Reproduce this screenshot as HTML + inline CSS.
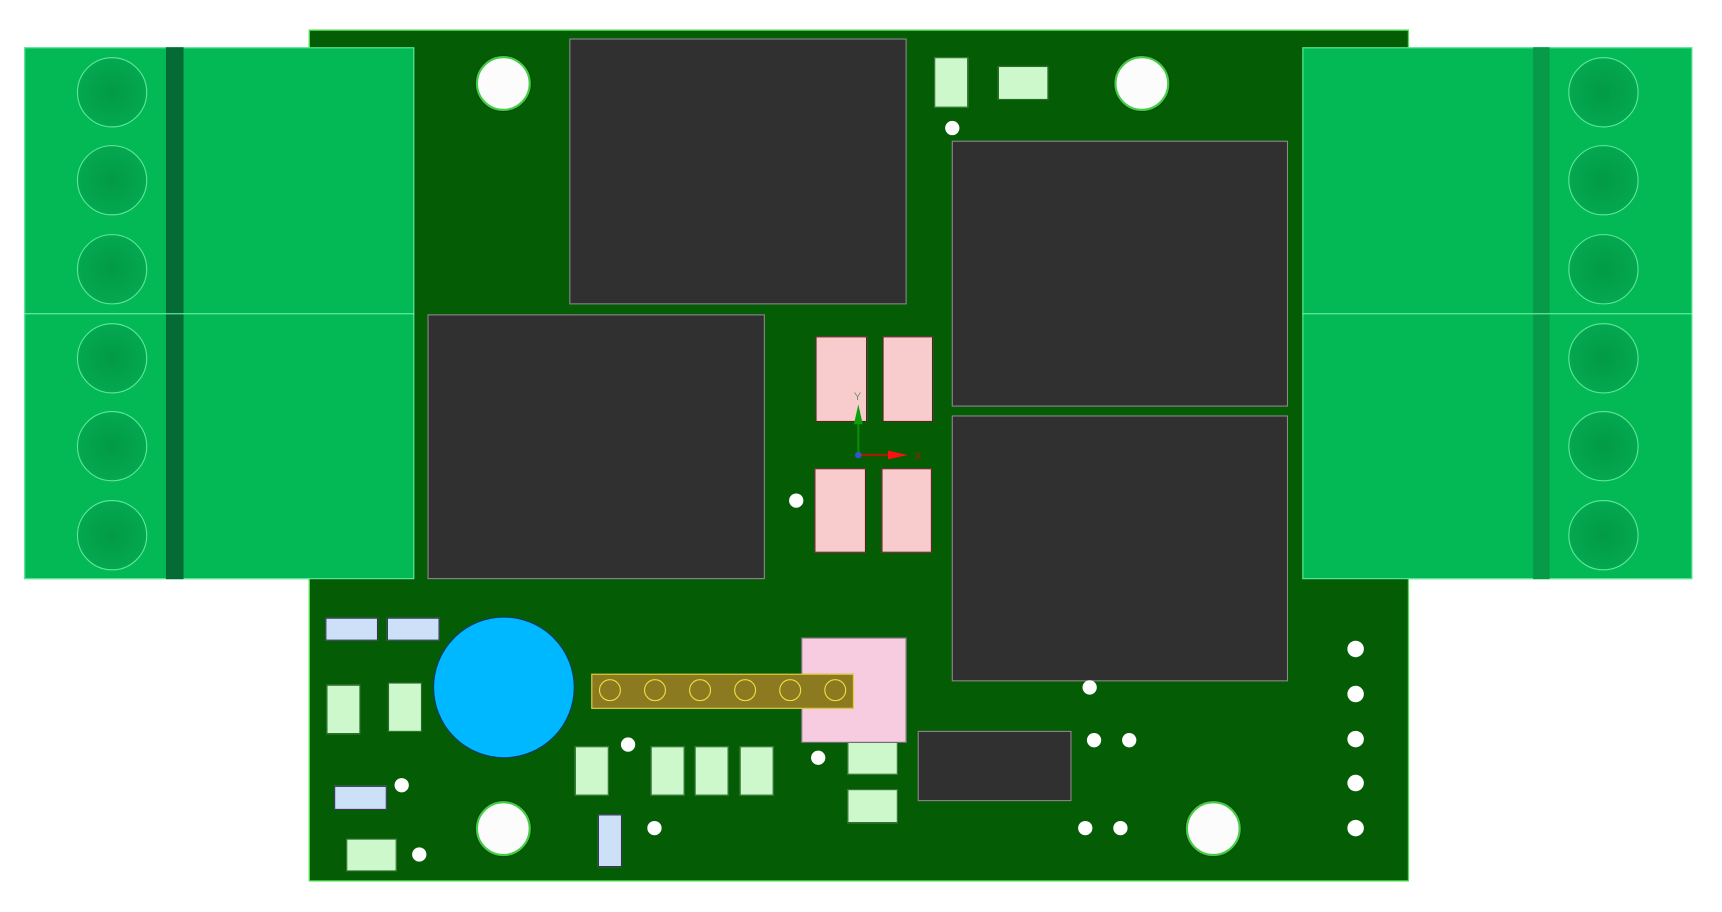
<!DOCTYPE html>
<html><head><meta charset="utf-8"><style>
html,body{margin:0;padding:0;background:#fff;width:1722px;height:912px;overflow:hidden}
#w{position:absolute;left:0;top:0;width:1563px;height:828px;transform:scale(1.099);transform-origin:0 0}
#w div{position:absolute;box-sizing:border-box}
.chip{background:#303030;border:1px solid #8a8a8a}
.pink{background:#f8cccc;border:1px solid #5a2020}
.lg{background:#ccf8cc;border:1px solid #2a6a2a}
.lb{background:#cce0f8;border:1px solid #335}
.hole{border-radius:50%;background:#fcfcfc;border:2px solid #4c4!important;box-shadow:0 0 0 1px #0a4a0a}
.dot{border-radius:50%;background:#fff;width:13px;height:13px}
.conn{background:#02b955;border:1px solid #5fe89a}
.strip{background:#046b35}
.tc{border-radius:50%;width:64px;height:64px;background:radial-gradient(circle at 50% 50%,#029a45,#03a850 70%,#06b155);border:1px solid #5fe89a}
</style></head><body><div id="w">
<div style="left:281px;top:27px;width:1001px;height:775px;background:#045c04;border:1px solid #4ef04e"></div>

<div class="conn" style="left:22px;top:43px;width:355px;height:484px"></div>
<div class="strip" style="left:151px;top:43px;width:16px;height:484px"></div>
<div style="left:22px;top:285px;width:355px;height:1px;background:#6ff0a8"></div>
<div class="conn" style="left:1185px;top:43px;width:355px;height:484px"></div>
<div class="strip" style="left:1395px;top:43px;width:15px;height:484px;background:#079a48"></div>
<div style="left:1185px;top:285px;width:355px;height:1px;background:#6ff0a8"></div>

<div class="tc" style="left:70px;top:52px"></div><div class="tc" style="left:70px;top:132px"></div><div class="tc" style="left:70px;top:213px"></div>
<div class="tc" style="left:70px;top:294px"></div><div class="tc" style="left:70px;top:374px"></div><div class="tc" style="left:70px;top:455px"></div>
<div class="tc" style="left:1427px;top:52px"></div><div class="tc" style="left:1427px;top:132px"></div><div class="tc" style="left:1427px;top:213px"></div>
<div class="tc" style="left:1427px;top:294px"></div><div class="tc" style="left:1427px;top:374px"></div><div class="tc" style="left:1427px;top:455px"></div>

<div class="chip" style="left:518px;top:35px;width:307px;height:242px"></div>
<div class="chip" style="left:389px;top:286px;width:307px;height:241px"></div>
<div class="chip" style="left:866px;top:128px;width:306px;height:242px"></div>
<div class="chip" style="left:866px;top:378px;width:306px;height:242px"></div>
<div class="chip" style="left:835px;top:665px;width:140px;height:64px"></div>

<div class="pink" style="left:742px;top:306px;width:47px;height:78px"></div>
<div class="pink" style="left:803px;top:306px;width:46px;height:78px"></div>
<div class="pink" style="left:741px;top:426px;width:47px;height:77px"></div>
<div class="pink" style="left:802px;top:426px;width:46px;height:77px"></div>

<div class="hole" style="left:433px;top:51px;width:50px;height:50px"></div>
<div class="hole" style="left:1014px;top:51px;width:50px;height:50px"></div>
<div class="hole" style="left:433px;top:729px;width:50px;height:50px"></div>
<div class="hole" style="left:1079px;top:729px;width:50px;height:50px"></div>

<div class="dot" style="left:860px;top:110px"></div>
<div class="dot" style="left:718px;top:449px"></div>
<div class="dot" style="left:985px;top:619px"></div>
<div class="dot" style="left:565px;top:671px"></div>
<div class="dot" style="left:738px;top:683px"></div>
<div class="dot" style="left:989px;top:667px"></div>
<div class="dot" style="left:1021px;top:667px"></div>
<div class="dot" style="left:359px;top:708px"></div>
<div class="dot" style="left:375px;top:771px"></div>
<div class="dot" style="left:589px;top:747px"></div>
<div class="dot" style="left:981px;top:747px"></div>
<div class="dot" style="left:1013px;top:747px"></div>
<div class="dot" style="left:1226px;top:583px;width:15px;height:15px"></div>
<div class="dot" style="left:1226px;top:624px;width:15px;height:15px"></div>
<div class="dot" style="left:1226px;top:665px;width:15px;height:15px"></div>
<div class="dot" style="left:1226px;top:705px;width:15px;height:15px"></div>
<div class="dot" style="left:1226px;top:746px;width:15px;height:15px"></div>

<div class="lg" style="left:850px;top:52px;width:31px;height:46px"></div>
<div class="lg" style="left:908px;top:60px;width:46px;height:31px"></div>
<div class="lg" style="left:297px;top:623px;width:31px;height:45px"></div>
<div class="lg" style="left:353px;top:621px;width:31px;height:45px"></div>
<div class="lg" style="left:523px;top:679px;width:31px;height:45px"></div>
<div class="lg" style="left:592px;top:679px;width:31px;height:45px"></div>
<div class="lg" style="left:632px;top:679px;width:31px;height:45px"></div>
<div class="lg" style="left:673px;top:679px;width:31px;height:45px"></div>
<div class="lg" style="left:771px;top:674px;width:46px;height:31px"></div>
<div class="lg" style="left:771px;top:718px;width:46px;height:31px"></div>
<div class="lg" style="left:315px;top:763px;width:46px;height:30px"></div>

<div class="lb" style="left:296px;top:562px;width:48px;height:21px"></div>
<div class="lb" style="left:352px;top:562px;width:48px;height:21px"></div>
<div class="lb" style="left:304px;top:715px;width:48px;height:22px"></div>
<div class="lb" style="left:544px;top:741px;width:22px;height:48px"></div>

<div style="left:394px;top:561px;width:129px;height:129px;border-radius:50%;background:#00b8ff;border:1px solid #0a3a6a"></div>
<div style="left:729px;top:580px;width:96px;height:96px;background:#f8cce0;border:1px solid #666"></div>
<div style="left:538px;top:613px;width:239px;height:32px;background:#8b7a20;border:1px solid #e8d040"></div>
<div style="left:545px;top:618px;width:20px;height:20px;border-radius:50%;border:1px solid #f0e040"></div>
<div style="left:586px;top:618px;width:20px;height:20px;border-radius:50%;border:1px solid #f0e040"></div>
<div style="left:627px;top:618px;width:20px;height:20px;border-radius:50%;border:1px solid #f0e040"></div>
<div style="left:668px;top:618px;width:20px;height:20px;border-radius:50%;border:1px solid #f0e040"></div>
<div style="left:709px;top:618px;width:20px;height:20px;border-radius:50%;border:1px solid #f0e040"></div>
<div style="left:750px;top:618px;width:20px;height:20px;border-radius:50%;border:1px solid #f0e040"></div>

<svg style="position:absolute;left:760px;top:350px" width="100" height="80">
<line x1="21" y1="64" x2="21" y2="30" stroke="#0a8a0a" stroke-width="2"/>
<polygon points="21,18 17,36 25,36" fill="#0aa00a"/>
<line x1="21" y1="64" x2="50" y2="64" stroke="#a02000" stroke-width="2"/>
<polygon points="66,64 48,60 48,68" fill="#ff1010"/>
<circle cx="21" cy="64" r="3" fill="#3355cc"/>
<text x="17" y="14" font-family="Liberation Sans,sans-serif" font-size="10" fill="#6a9a6a">Y</text>
<text x="72" y="68" font-family="Liberation Sans,sans-serif" font-size="10" fill="#a02000">X</text>
</svg>
</div></body></html>
